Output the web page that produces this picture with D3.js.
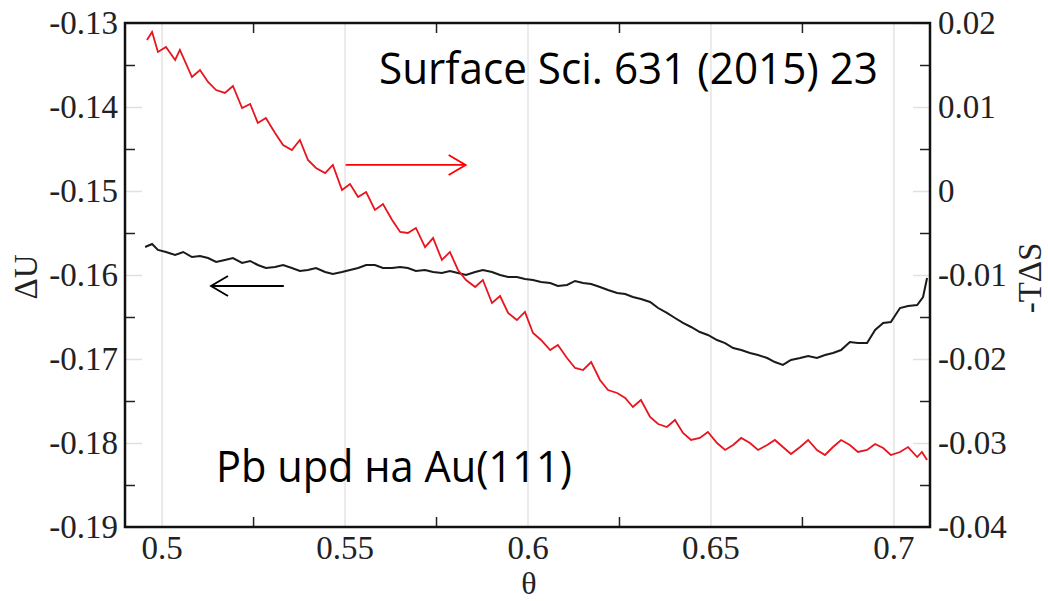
<!DOCTYPE html>
<html>
<head>
<meta charset="utf-8">
<script src="https://cdn.jsdelivr.net/npm/d3@7"></script>
<style>
  body { margin: 0; background: #fff; }
  .lbl text { font-family: "Liberation Serif", "Times New Roman", serif; font-size: 33px; fill: #222; }
  .note { font-family: "Open Sans", sans-serif; font-size: 43px; fill: #000; }
</style>
</head>
<body>
<script>
// theta values and the two curves
const thetaS = [0.4960,0.4974,0.4990,0.5012,0.5037,0.5050,0.5083,0.5105,0.5127,0.5149,0.5173,0.5195,0.5220,0.5242,0.5263,0.5285,0.5310,0.5332,0.5356,0.5378,0.5400,0.5422,0.5447,0.5468,0.5493,0.5515,0.5537,0.5559,0.5583,0.5605,0.5630,0.5652,0.5673,0.5695,0.5720,0.5742,0.5766,0.5788,0.5810,0.5832,0.5857,0.5878,0.5903,0.5925,0.5947,0.5971,0.5993,0.6015,0.6037,0.6062,0.6083,0.6108,0.6130,0.6152,0.6174,0.6198,0.6220,0.6245,0.6267,0.6288,0.6310,0.6335,0.6357,0.6381,0.6403,0.6425,0.6447,0.6471,0.6493,0.6518,0.6540,0.6562,0.6584,0.6608,0.6630,0.6655,0.6676,0.6698,0.6720,0.6745,0.6767,0.6791,0.6813,0.6835,0.6857,0.6881,0.6903,0.6928,0.6950,0.6972,0.6993,0.7018,0.7040,0.7065,0.7078,0.7092];
const minusTdS = [0.01798,0.01893,0.01655,0.01714,0.01560,0.01679,0.01357,0.01440,0.01298,0.01202,0.01167,0.01250,0.00988,0.01036,0.00810,0.00869,0.00690,0.00548,0.00488,0.00607,0.00369,0.00274,0.00214,0.00310,0.00012,0.00083,-0.00071,-0.00012,-0.00226,-0.00155,-0.00345,-0.00488,-0.00500,-0.00440,-0.00667,-0.00560,-0.00821,-0.00726,-0.00940,-0.01060,-0.01143,-0.01060,-0.01333,-0.01250,-0.01452,-0.01536,-0.01440,-0.01690,-0.01774,-0.01893,-0.01833,-0.01988,-0.02107,-0.02131,-0.02036,-0.02250,-0.02369,-0.02405,-0.02464,-0.02571,-0.02488,-0.02690,-0.02774,-0.02810,-0.02726,-0.02881,-0.02964,-0.02940,-0.02869,-0.03000,-0.03083,-0.03024,-0.02940,-0.03000,-0.03083,-0.03024,-0.02964,-0.03048,-0.03131,-0.03048,-0.02964,-0.03083,-0.03143,-0.03048,-0.02964,-0.03024,-0.03107,-0.03083,-0.03012,-0.03060,-0.03143,-0.03107,-0.03048,-0.03167,-0.03107,-0.03202];

const thetaU = [0.4955,0.4974,0.4990,0.5012,0.5037,0.5059,0.5083,0.5105,0.5127,0.5149,0.5173,0.5195,0.5220,0.5242,0.5263,0.5285,0.5310,0.5332,0.5356,0.5378,0.5400,0.5422,0.5447,0.5468,0.5493,0.5515,0.5537,0.5559,0.5583,0.5605,0.5630,0.5652,0.5673,0.5695,0.5720,0.5742,0.5766,0.5788,0.5810,0.5832,0.5857,0.5878,0.5903,0.5925,0.5947,0.5971,0.5993,0.6015,0.6037,0.6062,0.6083,0.6108,0.6130,0.6152,0.6174,0.6198,0.6220,0.6245,0.6267,0.6288,0.6310,0.6335,0.6357,0.6381,0.6403,0.6425,0.6447,0.6471,0.6493,0.6518,0.6540,0.6562,0.6584,0.6608,0.6630,0.6655,0.6676,0.6698,0.6720,0.6745,0.6767,0.6791,0.6813,0.6835,0.6857,0.6881,0.6903,0.6928,0.6950,0.6972,0.6993,0.7018,0.7040,0.7065,0.7081,0.7092];
const deltaU = [-0.15667,-0.15631,-0.15702,-0.15726,-0.15762,-0.15726,-0.15786,-0.15774,-0.15798,-0.15845,-0.15821,-0.15798,-0.15857,-0.15833,-0.15881,-0.15917,-0.15905,-0.15881,-0.15917,-0.15952,-0.15940,-0.15917,-0.15964,-0.15988,-0.15964,-0.15940,-0.15917,-0.15881,-0.15881,-0.15917,-0.15917,-0.15905,-0.15917,-0.15952,-0.15940,-0.15964,-0.15976,-0.15952,-0.15976,-0.16000,-0.15964,-0.15940,-0.15964,-0.16000,-0.16024,-0.16024,-0.16048,-0.16060,-0.16083,-0.16095,-0.16131,-0.16119,-0.16071,-0.16095,-0.16107,-0.16143,-0.16179,-0.16214,-0.16226,-0.16262,-0.16286,-0.16321,-0.16393,-0.16452,-0.16512,-0.16571,-0.16619,-0.16679,-0.16714,-0.16774,-0.16810,-0.16869,-0.16893,-0.16929,-0.16952,-0.16988,-0.17036,-0.17071,-0.17012,-0.16988,-0.16964,-0.16988,-0.16952,-0.16929,-0.16893,-0.16798,-0.16810,-0.16810,-0.16655,-0.16571,-0.16560,-0.16393,-0.16369,-0.16357,-0.16262,-0.16036];

// ticks
const xTicks = [0.5, 0.55, 0.6, 0.65, 0.7];
const xLabels = ["0.5", "0.55", "0.6", "0.65", "0.7"];
const xMinor = [0.525, 0.575, 0.625, 0.675];
const yLTicks = [-0.19, -0.18, -0.17, -0.16, -0.15, -0.14, -0.13];
const yLLabels = ["-0.19", "-0.18", "-0.17", "-0.16", "-0.15", "-0.14", "-0.13"];
const yLMinor = [-0.185, -0.175, -0.165, -0.155, -0.145, -0.135];
const yRTicks = [-0.04, -0.03, -0.02, -0.01, 0, 0.01, 0.02];
const yRLabels = ["-0.04", "-0.03", "-0.02", "-0.01", "0", "0.01", "0.02"];
const yRMinor = [-0.035, -0.025, -0.015, -0.005, 0.005, 0.015];

// arrows: [theta start, theta end, value]
const redArrow = [0.5503, 0.5831, 0.0031];
const blackArrow = [0.5334, 0.5135, -0.16131];

var margin = {top: 23, left: 125, right: 118, bottom: 74};
const width = 1048 - margin.left - margin.right;
const height = 601 - margin.top - margin.bottom;

const svg = d3.select('body').append('svg')
  .attr('width', 1048).attr('height', 601);
const g = svg.append('g')
  .attr('transform', `translate(${margin.left},${margin.top})`);

const x = d3.scaleLinear().domain([0.49, 0.71]).range([0, width]);
const yL = d3.scaleLinear().domain([-0.19, -0.13]).range([height, 0]);
const yR = d3.scaleLinear().domain([-0.04, 0.02]).range([height, 0]);

function styleTicks(sel, color, w) {
  sel.select('.domain').remove();
  sel.selectAll('line').attr('stroke', color).attr('stroke-width', w);
}

// vertical gridlines at major x
g.append('g')
  .attr('transform', `translate(0,${height})`)
  .call(d3.axisBottom(x).tickValues(xTicks).tickSize(-height).tickFormat(''))
  .call(s => styleTicks(s, '#e4e4e4', 1.5));

// grey major stubs on y axes
g.append('g')
  .call(d3.axisLeft(yL).tickValues(yLTicks).tickSize(-17).tickFormat(''))
  .call(s => styleTicks(s, '#e0e0e0', 1.5));
g.append('g')
  .attr('transform', `translate(${width},0)`)
  .call(d3.axisRight(yR).tickValues(yRTicks).tickSize(-17).tickFormat(''))
  .call(s => styleTicks(s, '#e0e0e0', 1.5));

// minor black ticks on all sides
g.append('g').attr('transform', `translate(0,${height})`)
  .call(d3.axisBottom(x).tickValues(xMinor).tickSize(-10).tickFormat(''))
  .call(s => styleTicks(s, '#222', 1.5));
g.append('g')
  .call(d3.axisTop(x).tickValues(xMinor).tickSize(-10).tickFormat(''))
  .call(s => styleTicks(s, '#222', 1.5));
g.append('g')
  .call(d3.axisLeft(yL).tickValues(yLMinor).tickSize(-10).tickFormat(''))
  .call(s => styleTicks(s, '#222', 1.5));
g.append('g').attr('transform', `translate(${width},0)`)
  .call(d3.axisRight(yR).tickValues(yRMinor).tickSize(-10).tickFormat(''))
  .call(s => styleTicks(s, '#222', 1.5));

// tick labels
g.append('g').attr('class', 'lbl')
  .attr('transform', `translate(0,${height})`)
  .call(d3.axisBottom(x).tickValues(xTicks).tickSize(0).tickPadding(9)
    .tickFormat((d, i) => xLabels[i]))
  .call(s => s.select('.domain').remove());
g.append('g').attr('class', 'lbl')
  .call(d3.axisLeft(yL).tickValues(yLTicks).tickSize(0).tickPadding(7)
    .tickFormat((d, i) => yLLabels[i]))
  .call(s => s.select('.domain').remove());
g.append('g').attr('class', 'lbl')
  .attr('transform', `translate(${width},0)`)
  .call(d3.axisRight(yR).tickValues(yRTicks).tickSize(0).tickPadding(8)
    .tickFormat((d, i) => yRLabels[i]))
  .call(s => s.select('.domain').remove());

// curves
const lineU = d3.line().x((d, i) => x(thetaU[i])).y(d => yL(d));
const lineS = d3.line().x((d, i) => x(thetaS[i])).y(d => yR(d));

g.append('path').datum(deltaU)
  .attr('d', lineU).attr('fill', 'none')
  .attr('stroke', '#1a1a1a').attr('stroke-width', 2);
g.append('path').datum(minusTdS)
  .attr('d', lineS).attr('fill', 'none')
  .attr('stroke', '#e8141e').attr('stroke-width', 1.8);

// frame
g.append('rect')
  .attr('width', width).attr('height', height)
  .attr('fill', 'none').attr('stroke', '#111').attr('stroke-width', 2.5);

// arrows
function arrow(a, yScale, color) {
  const x0 = x(a[0]), x1 = x(a[1]), yy = yScale(a[2]);
  const dir = x1 > x0 ? 1 : -1;
  g.append('line').attr('x1', x0).attr('x2', x1).attr('y1', yy).attr('y2', yy)
    .attr('stroke', color).attr('stroke-width', 1.8);
  g.append('polyline')
    .attr('points', `${x1 - dir * 17},${yy - 10} ${x1},${yy} ${x1 - dir * 17},${yy + 10}`)
    .attr('fill', 'none').attr('stroke', color).attr('stroke-width', 1.8);
}
arrow(redArrow, yR, '#ff0000');
arrow(blackArrow, yL, '#000');

// axis titles
svg.append('text')
  .attr('transform', 'translate(37,277) rotate(-90)')
  .attr('text-anchor', 'middle')
  .style('font-family', '"Liberation Serif", serif').style('font-size', '33px').style('fill', '#222')
  .text('ΔU');
svg.append('text')
  .attr('transform', 'translate(1041,278) rotate(-90)')
  .attr('text-anchor', 'middle')
  .style('font-family', '"Liberation Serif", serif').style('font-size', '33px').style('fill', '#222')
  .text('-TΔS');
svg.append('text')
  .attr('x', 529).attr('y', 594)
  .attr('text-anchor', 'middle')
  .style('font-family', '"Liberation Serif", serif').style('font-size', '32px').style('fill', '#222')
  .text('θ');

// annotations
svg.append('text').attr('class', 'note')
  .attr('x', 379).attr('y', 84)
  .attr('textLength', 499).attr('lengthAdjust', 'spacingAndGlyphs')
  .text('Surface Sci. 631 (2015) 23');
svg.append('text').attr('class', 'note')
  .attr('x', 216).attr('y', 482)
  .attr('textLength', 356).attr('lengthAdjust', 'spacingAndGlyphs')
  .text('Pb upd на Au(111)');
</script>
</body>
</html>
